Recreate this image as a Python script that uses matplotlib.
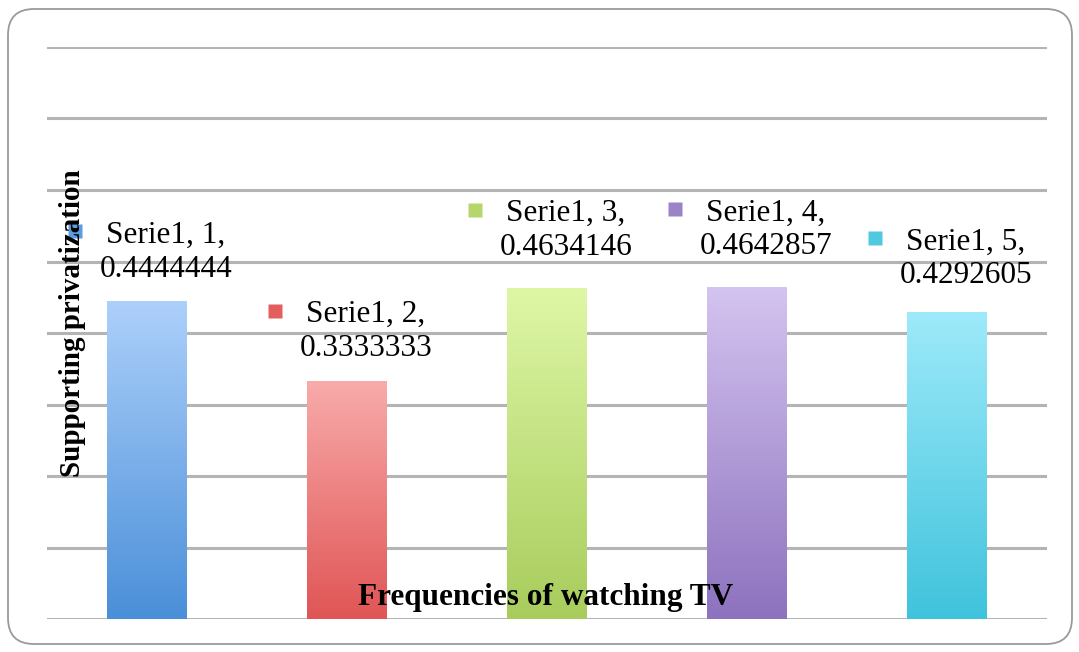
import numpy as np
import matplotlib
matplotlib.use("Agg")
from matplotlib import pyplot as plt
from matplotlib import transforms
from matplotlib.patches import FancyBboxPatch, Rectangle
from matplotlib.colors import LinearSegmentedColormap

# data
categories = [1, 2, 3, 4, 5]
values = [0.4444444, 0.3333333, 0.4634146, 0.4642857, 0.4292605]
series_name = "Serie1"
x_title = "Frequencies of watching TV"
y_title = "Supporting privatization"

# top / bottom colours of each bar gradient
top_colors = ["#add0fa", "#f9abab", "#def7a6", "#d4c4f0", "#9eeafa"]
bottom_colors = ["#4a8fd9", "#e05555", "#a8cc5c", "#8d72be", "#3fc3dc"]
marker_colors = ["#5b9be0", "#e35f5f", "#b5d66a", "#9b83c8", "#4fc8e0"]
# distance (px) from bar top to centre of the label, Excel placement is a bit uneven
label_gap = [49, 49, 57, 57, 53]

serif = "Liberation Serif"

fig = plt.figure(figsize=(10.79, 6.52), dpi=100)
fig.patch.set_facecolor("white")

# rounded frame around the whole chart (pixel coords)
frame = FancyBboxPatch((8, 8), 1064, 635,
                       boxstyle="round,pad=0,rounding_size=26",
                       transform=transforms.IdentityTransform(), facecolor="none",
                       edgecolor="#9a9a9a", linewidth=1.3, zorder=-1)
fig.patches.append(frame)

ax = fig.add_axes([47 / 1079, 1 - 619 / 652, 1000 / 1079, 572 / 652])
ax.set_facecolor("none")
x = np.arange(len(categories))
for s in ax.spines.values():
    s.set_visible(False)
ax.set_xticks([])
ax.set_yticks(np.arange(0, 0.81, 0.1))
ax.tick_params(left=False, labelleft=False)
ax.yaxis.grid(True, color="#b4b4b4", linewidth=2.2)
ax.set_axisbelow(True)

bars = ax.bar(x, values, width=0.4, color="none", edgecolor="none", zorder=2)
grad = np.linspace(0, 1, 256).reshape(-1, 1)
for i, b in enumerate(bars):
    cmap = LinearSegmentedColormap.from_list("g%d" % i, [bottom_colors[i], top_colors[i]])
    x0, w, h = b.get_x(), b.get_width(), b.get_height()
    im = ax.imshow(grad, cmap=cmap, origin="lower", aspect="auto",
                   extent=(x0, x0 + w, 0, h), zorder=2)
    im.set_clip_path(Rectangle((x0, 0), w, h, transform=ax.transData))

ax.set_xlim(-0.5, len(categories) - 0.5)
ax.set_ylim(0, 0.8)

# data labels: small square marker plus two-line text
for i, (c, v) in enumerate(zip(categories, values)):
    ax.annotate("%s, %d,\n%.7f" % (series_name, c, v), xy=(x[i], v),
                xytext=(19, label_gap[i]), textcoords="offset pixels",
                ha="center", va="center", fontsize=22.5, family=serif,
                linespacing=1.22, zorder=4)
    shift = transforms.ScaledTranslation(-72 / 100, (label_gap[i] + 21) / 100,
                                         fig.dpi_scale_trans)
    ax.plot([x[i]], [v], marker="s", markersize=10, color=marker_colors[i],
            markeredgecolor="none", linestyle="none", zorder=3,
            transform=ax.transData + shift)

fig.text(546 / 1079, 1 - 598 / 652, x_title, ha="center", va="center",
         fontsize=22.5, fontweight="bold", family=serif, zorder=5)
fig.text(73 / 1079, 1 - 323 / 652, y_title, ha="center", va="center",
         rotation=90, fontsize=21, fontweight="bold", family=serif, zorder=5)

fig.savefig("out.png", dpi=100)
